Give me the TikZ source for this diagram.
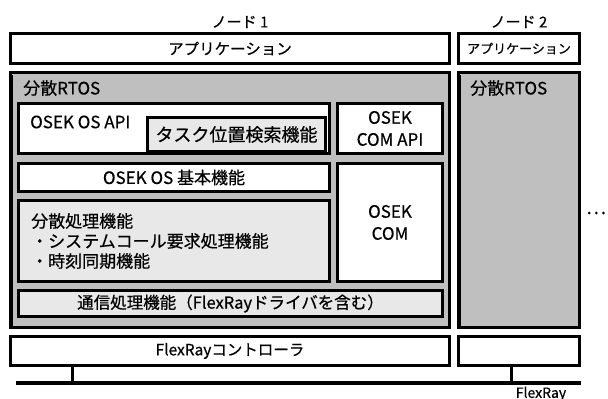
\documentclass[tikz,border=0pt]{standalone}
\usepackage{fontspec}
\setmainfont{Noto Sans CJK JP}[FakeBold=0.5]
\newcommand{\fsz}[2]{\fontsize{#1}{#2}\selectfont}
\begin{document}
\begin{tikzpicture}[x=1pt, y=-1pt, line join=miter,
    box/.style={draw, line width=3pt, fill=white, inner sep=0pt, align=center, font=\fsz{17}{22}},
    rtosbox/.style={box, fill=black!25},
    subbox/.style={box, fill=black!9},
    lbl/.style={inner sep=0pt, anchor=west, font=\fsz{17}{21}, align=left}]
    \useasboundingbox (0,0) rectangle (608,399);
    % node headings
    \node[font=\fsz{15}{15}] (head1) at (240,22) {ノード 1};
    \node[font=\fsz{15}{15}] (head2) at (519,22) {ノード 2};
    % node 1
    \node[box, minimum width=439pt, minimum height=30pt, font=\fsz{15.5}{16}] (app1) at (230,48.5) {アプリケーション};
    \node[rtosbox, minimum width=439pt, minimum height=255pt] (rtos1) at (230,200) {};
    \node[lbl] (rtos1-t) at (23,88) {分散RTOS};
    \node[box, minimum width=311pt, minimum height=50pt] (api) at (174,128.5) {};
    \node[lbl] (api-t) at (30,122) {OSEK OS API};
    \node[subbox, minimum width=178pt, minimum height=34pt, font=\fsz{18}{18}] (task) at (236.5,134.5) {タスク位置検索機能};
    \node[box, minimum width=105pt, minimum height=50pt] (comapi) at (390,128.5) {OSEK\\COM API};
    \node[box, minimum width=311pt, minimum height=28pt] (basic) at (174,177.5) {OSEK OS 基本機能};
    \node[box, minimum width=105pt, minimum height=118pt] (com) at (390,222.5) {OSEK\\COM};
    \node[subbox, minimum width=311pt, minimum height=81pt] (dist) at (174,241) {};
    \node[lbl] (dist-t) at (31,241) {分散処理機能\\[-1pt] ・システムコール要求処理機能\\[-1pt] ・時刻同期機能};
    \node[subbox, minimum width=424pt, minimum height=26pt, font=\fsz{16.5}{17}] (comm) at (230.5,303.5) {通信処理機能（FlexRayドライバを含む）};
    \node[box, minimum width=439pt, minimum height=29pt, font=\fsz{15.5}{16}] (ctrl1) at (230,351) {FlexRayコントローラ};
    % node 2
    \node[box, minimum width=121pt, minimum height=30pt, font=\fsz{13}{13}] (app2) at (519,48.5) {アプリケーション};
    \node[rtosbox, minimum width=121pt, minimum height=255pt] (rtos2) at (519,200) {};
    \node[lbl] (rtos2-t) at (470,88) {分散RTOS};
    \node[box, minimum width=121pt, minimum height=29pt] (ctrl2) at (519,351) {};
    \node[font=\fsz{19}{19}, inner sep=0pt] (more) at (596,213) {…};
    % inner edge of the RTOS boxes
    \foreach \r in {rtos1,rtos2}
        \draw[line width=1pt] ([shift={(3,4)}]\r.north west) -- ([shift={(3,-3)}]\r.south west) -- ([shift={(-3,-3)}]\r.south east);
    % bus
    \path (16,383) coordinate (busL) (581,383) coordinate (busR)
          (72,383) coordinate (tap1) (511,383) coordinate (tap2);
    \draw[line width=4pt] (busL) -- (busR);
    \foreach \t/\c in {tap1/ctrl1,tap2/ctrl2}
        \draw[line width=3pt] (\t) -- (\t |- \c.south);
    \node[font=\fsz{14}{14}, anchor=north, inner sep=0pt] (bus-t) at (541,386.5) {FlexRay};
\end{tikzpicture}
\end{document}
